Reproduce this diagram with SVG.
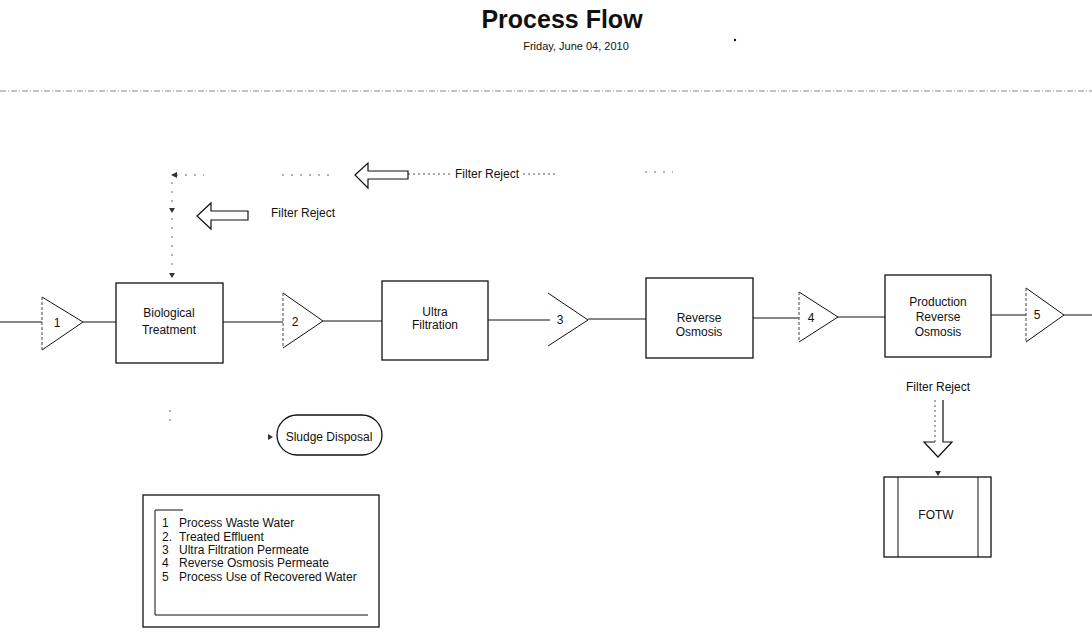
<svg xmlns="http://www.w3.org/2000/svg" width="1092" height="632" viewBox="0 0 1092 632">
<style>
text{font-family:"Liberation Sans",Arial,sans-serif;fill:#111;}
.t{font-size:12px;text-anchor:middle;}
.lg{font-size:12px;}
.box{fill:#fff;stroke:#111;stroke-width:1.3;}
.ln{stroke:#111;stroke-width:1;fill:none;}
.dl{stroke:#555;stroke-width:1;fill:none;stroke-dasharray:2 3;}
.ds{stroke:#666;stroke-width:1;fill:none;stroke-dasharray:2 7;}
.hol{fill:#fff;stroke:#111;stroke-width:1.2;}
.tri{fill:#fff;stroke:#111;stroke-width:1;}
.trl{stroke:#444;stroke-width:1;stroke-dasharray:3 2;fill:none;}
.ah{fill:#333;stroke:none;}
</style>

<g id="header">
<text x="562" y="28" font-size="25" font-weight="bold" text-anchor="middle">Process Flow</text>
<text x="576" y="50" font-size="11" text-anchor="middle">Friday, June 04, 2010</text>
<circle cx="735" cy="40" r="1.2" fill="#111"/>
<line x1="0" y1="91" x2="1092" y2="91" stroke="#888" stroke-width="1" stroke-dasharray="6 2 1 2"/>
</g>

<g id="connectors">
<!-- main flow -->
<line class="ln" x1="0" y1="322" x2="42" y2="322"/>
<line class="ln" x1="83" y1="322" x2="116" y2="322"/>
<line class="ln" x1="223" y1="322" x2="283" y2="322"/>
<line class="ln" x1="323" y1="321" x2="382" y2="321"/>
<line class="ln" x1="488" y1="320" x2="550" y2="320"/>
<line class="ln" x1="588" y1="319" x2="646" y2="319"/>
<line class="ln" x1="753" y1="318" x2="799" y2="318"/>
<line class="ln" x1="838" y1="317" x2="885" y2="317"/>
<line class="ln" x1="991" y1="315" x2="1026" y2="315"/>
<line class="ln" x1="1064" y1="315" x2="1092" y2="315"/>
<!-- top filter reject loop -->
<line class="dl" x1="408" y1="174" x2="450" y2="174"/>
<line class="dl" x1="523" y1="174" x2="558" y2="174"/>
<line class="ds" x1="645" y1="172" x2="673" y2="172"/>
<line class="ds" x1="282" y1="175" x2="332" y2="175"/>
<line class="ds" x1="176" y1="175" x2="204" y2="175"/>
<path class="ah" d="M171,175 l6,-3 v6 z"/>
<line class="ds" x1="172" y1="182" x2="172" y2="272"/>
<path class="ah" d="M172,213 l-3,-5 h6 z"/>
<path class="ah" d="M172,278 l-3,-5 h6 z"/>
<polygon class="hol" points="355,175 368,163 368,171 408,171 408,179 368,179 368,188"/>
<!-- second filter reject arrow -->
<polygon class="hol" points="197,216 211,203 211,211 248,211 248,220 211,220 211,229"/>
<!-- sludge -->
<line class="ds" x1="170" y1="410" x2="170" y2="424"/>
<path class="ah" d="M273,437 l-5,-3 v6 z"/>
<!-- production RO reject to FOTW -->
<path d="M935,400 H943 V442 H952 L938,457 L924,442 H935 Z" fill="#fff" stroke="none"/>
<path class="hol" d="M943,400 V442 H952 L938,457 L924,442 H935" fill="none"/>
<line class="dl" x1="935" y1="400" x2="935" y2="442"/>
<path class="ah" d="M938,476 l-3,-5 h6 z"/>
</g>

<g id="tri1">
<path class="tri" d="M42,297 L83,322 L42,350"/>
<line class="trl" x1="42" y1="297" x2="42" y2="350"/>
<text class="t" x="57" y="327">1</text>
</g>
<g id="bio">
<rect class="box" x="116" y="283" width="107" height="80"/>
<text class="t" x="169" y="317">Biological</text>
<text class="t" x="169" y="334">Treatment</text>
</g>
<g id="tri2">
<path class="tri" d="M283,293 L323,321 L283,348"/>
<line class="trl" x1="283" y1="293" x2="283" y2="348"/>
<text class="t" x="295" y="326">2</text>
</g>
<g id="uf">
<rect class="box" x="382" y="281" width="106" height="79"/>
<text class="t" x="435" y="316">Ultra</text>
<text class="t" x="435" y="329">Filtration</text>
</g>
<g id="tri3">
<path class="ln" d="M548,293 L588,320 L548,346"/>
<text class="t" x="560" y="324">3</text>
</g>
<g id="ro">
<rect class="box" x="646" y="278" width="107" height="80"/>
<text class="t" x="699" y="322">Reverse</text>
<text class="t" x="699" y="336">Osmosis</text>
</g>
<g id="tri4">
<path class="tri" d="M799,292 L838,317 L799,342"/>
<line class="trl" x1="799" y1="292" x2="799" y2="342"/>
<text class="t" x="811" y="322">4</text>
</g>
<g id="pro">
<rect class="box" x="885" y="275" width="106" height="82"/>
<text class="t" x="938" y="306">Production</text>
<text class="t" x="938" y="321">Reverse</text>
<text class="t" x="938" y="336">Osmosis</text>
</g>
<g id="tri5">
<path class="tri" d="M1026,288 L1064,315 L1026,342"/>
<line class="trl" x1="1026" y1="288" x2="1026" y2="342"/>
<text class="t" x="1037" y="319">5</text>
</g>

<g id="label-top">
<text class="t" x="487" y="178">Filter Reject</text>
</g>
<g id="label-mid">
<text class="t" x="303" y="217">Filter Reject</text>
</g>
<g id="label-pro">
<text class="t" x="938" y="391">Filter Reject</text>
</g>

<g id="sludge">
<rect class="box" x="277" y="415" width="105" height="40" rx="20" ry="20"/>
<text class="t" x="329" y="441" font-size="11.5">Sludge Disposal</text>
</g>

<g id="fotw">
<rect class="box" x="884" y="477" width="107" height="80"/>
<line class="ln" x1="898" y1="477" x2="898" y2="557"/>
<line class="ln" x1="978" y1="477" x2="978" y2="557"/>
<text class="t" x="936" y="519">FOTW</text>
</g>

<g id="legend">
<rect x="143" y="495" width="236" height="132" fill="#fff" stroke="#111" stroke-width="1.3"/>
<path class="ln" d="M183,510 H155 V615 H368"/>
<text class="lg" x="162" y="527">1</text>
<text class="lg" x="179" y="527">Process Waste Water</text>
<text class="lg" x="162" y="541">2.</text>
<text class="lg" x="179" y="541">Treated Effluent</text>
<text class="lg" x="162" y="554">3</text>
<text class="lg" x="179" y="554">Ultra Filtration Permeate</text>
<text class="lg" x="162" y="567">4</text>
<text class="lg" x="179" y="567">Reverse Osmosis Permeate</text>
<text class="lg" x="162" y="581">5</text>
<text class="lg" x="179" y="581">Process Use of Recovered Water</text>
</g>
</svg>
